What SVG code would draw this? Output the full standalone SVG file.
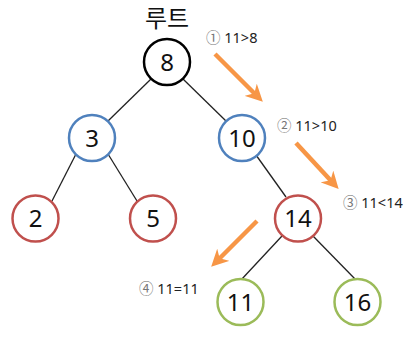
<svg xmlns="http://www.w3.org/2000/svg" width="419" height="343" viewBox="0 0 419 343">
<style>
.n{fill:#fff;stroke-width:2.5}
.blk{stroke:#000}
.blu{stroke:#4f81bd}
.red{stroke:#c0504d}
.grn{stroke:#9bbb59}
.t{font-family:"Noto Sans","Noto Sans CJK KR",sans-serif;font-size:24px;fill:#111;text-anchor:middle}
.l{font-family:"Noto Sans","Noto Sans CJK KR",sans-serif;font-size:14.5px;fill:#222}
.c{fill:#777}
.e{stroke:#222;stroke-width:1.3}
.a{stroke:#f79646;stroke-width:4.5;fill:none;marker-end:url(#ah)}
</style>
<defs>
<marker id="ah" viewBox="0 0 10 10" refX="6" refY="5" markerWidth="3.8" markerHeight="3.8" orient="auto" markerUnits="strokeWidth">
<path d="M0,0 L10,5 L0,10 L3,5 Z" fill="#f79646"/>
</marker>
</defs>
<rect width="419" height="343" fill="#fff"/>
<g id="connectors">
<line class="e" x1="151" y1="79" x2="108" y2="121"/>
<line class="e" x1="183" y1="79" x2="226" y2="121"/>
<line class="e" x1="76" y1="154" x2="52" y2="201"/>
<line class="e" x1="108" y1="154" x2="137" y2="201"/>
<line class="e" x1="256" y1="155" x2="286" y2="197"/>
<line class="e" x1="282" y1="236" x2="241" y2="280"/>
<line class="e" x1="313" y1="236" x2="356" y2="280"/>
<line class="a" x1="215" y1="54" x2="258" y2="97"/>
<line class="a" x1="296" y1="143" x2="334" y2="184"/>
<line class="a" x1="257" y1="221" x2="216" y2="262"/>
</g>
<text class="t" x="167" y="27" style="font-size:24px">루트</text>
<g id="n8"><circle class="n blk" cx="167" cy="62" r="23"/><text class="t" x="167" y="70.5">8</text></g>
<g id="n3"><circle class="n blu" cx="92" cy="138" r="23"/><text class="t" x="92" y="146.5">3</text></g>
<g id="n10"><circle class="n blu" cx="242" cy="138" r="23"/><text class="t" x="242" y="146.5">10</text></g>
<g id="n2"><circle class="n red" cx="35.5" cy="218.5" r="23"/><text class="t" x="35.5" y="227">2</text></g>
<g id="n5"><circle class="n red" cx="153" cy="218.5" r="23"/><text class="t" x="153" y="227">5</text></g>
<g id="n14"><circle class="n red" cx="298" cy="218.5" r="23"/><text class="t" x="298" y="227">14</text></g>
<g id="n11"><circle class="n grn" cx="240.5" cy="302" r="23"/><text class="t" x="240.5" y="310.5">11</text></g>
<g id="n16"><circle class="n grn" cx="357.5" cy="302" r="23"/><text class="t" x="357.5" y="310.5">16</text></g>
<text class="l" x="206" y="43"><tspan class="c">①</tspan> 11&gt;8</text>
<text class="l" x="277" y="131"><tspan class="c">②</tspan> 11&gt;10</text>
<text class="l" x="343" y="208"><tspan class="c">③</tspan> 11&lt;14</text>
<text class="l" x="139" y="294"><tspan class="c">④</tspan> 11=11</text>
</svg>
